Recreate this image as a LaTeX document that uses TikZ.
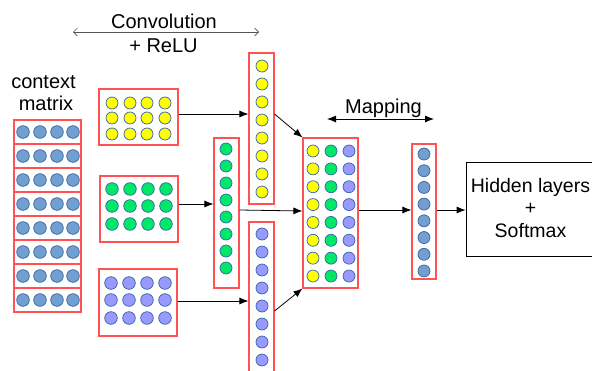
\documentclass[tikz,border=0pt]{standalone}
\usepackage{fontspec}
\setmainfont{Liberation Sans}
\usetikzlibrary{arrows.meta}

\definecolor{boxred}{HTML}{FF5252}
\definecolor{dotedge}{HTML}{3465A4}
\definecolor{dotblue}{HTML}{729FCF}
\definecolor{dotyellow}{HTML}{FFFF00}
\definecolor{dotgreen}{HTML}{00E868}
\definecolor{dotpurple}{HTML}{9999FF}
\definecolor{guide}{HTML}{555555}

\begin{document}
\begin{tikzpicture}[x=1pt,y=-1pt,
  redbox/.style={draw=boxred, line width=1.1pt, fill=white, rectangle, inner sep=0pt},
  plainbox/.style={draw=black, line width=0.8pt, fill=white, rectangle, inner sep=0pt},
  dot/.style={draw=dotedge, line width=0.7pt},
  arr/.style={-{Latex[length=9pt,width=7pt]}, line width=0.8pt, draw=black},
  guidearr/.style={{Straight Barb[length=4pt,width=8pt]}-{Straight Barb[length=4pt,width=8pt]}, line width=0.7pt, draw=guide},
  maparr/.style={{Latex[length=9pt,width=7pt]}-{Latex[length=9pt,width=7pt]}, line width=0.8pt, draw=black},
  lbl/.style={font=\fontsize{20}{22.5}\selectfont, inner sep=0pt}
]
\useasboundingbox (0,0) rectangle (592,370);

% ---------- context matrix: eight rows of four units ----------
\foreach \k in {1,...,8}{
  \node[redbox, minimum width=67pt, minimum height=24pt] (ctx\k) at (47.5,{132+24*(\k-1)}) {};
  \foreach \x in {23,40,57,73}
    \filldraw[dot, fill=dotblue] (\x,{132+24*(\k-1)}) circle[radius=6.3pt];
}
\node[lbl, anchor=base] (ctxtxt) at (43.5,88) {context};
\node[lbl, anchor=base] (mattxt) at (46,110) {matrix};

% ---------- convolution feature maps ----------
\node[redbox, minimum width=79pt, minimum height=56pt] (ym) at (138.5,117) {};
\foreach \x in {112,130,147,165}
  \foreach \y in {103,118,134}
    \filldraw[dot, fill=dotyellow] (\x,\y) circle[radius=6pt];

\node[redbox, minimum width=78pt, minimum height=66pt] (gm) at (139,209) {};
\foreach \x in {112,130,148,166}
  \foreach \y in {189,206,224}
    \filldraw[dot, fill=dotgreen] (\x,\y) circle[radius=6.3pt];

\node[redbox, minimum width=78pt, minimum height=67pt] (pm) at (138,302.5) {};
\foreach \x in {111,129,147,165}
  \foreach \y in {283,300,318}
    \filldraw[dot, fill=dotpurple] (\x,\y) circle[radius=6.3pt];

% ---------- pooled vectors ----------
\node[redbox, minimum width=25pt, minimum height=151pt] (yv) at (261.5,128.5) {};
\foreach \k in {0,...,7}
  \filldraw[dot, fill=dotyellow] (262,{66+18*\k}) circle[radius=6pt];

\node[redbox, minimum width=25pt, minimum height=150pt] (gv) at (226.5,213) {};
\foreach \k in {0,...,7}
  \filldraw[dot, fill=dotgreen] (226,{149+17*\k}) circle[radius=6pt];

\node[redbox, minimum width=25pt, minimum height=160pt] (pv) at (261.5,302) {};
\foreach \k in {0,...,7}
  \filldraw[dot, fill=dotpurple] (262,{234+18*\k}) circle[radius=6pt];

% ---------- concatenation ----------
\node[redbox, minimum width=55pt, minimum height=150pt] (cc) at (330.5,213) {};
\foreach \k in {0,...,7}{
  \filldraw[dot, fill=dotyellow] (313,{151+17.86*\k}) circle[radius=6pt];
  \filldraw[dot, fill=dotgreen]  (331,{151+17.86*\k}) circle[radius=6pt];
  \filldraw[dot, fill=dotpurple] (349,{151+17.86*\k}) circle[radius=6pt];
}

% ---------- mapped vector ----------
\node[redbox, minimum width=24pt, minimum height=135pt] (mv) at (424,211.5) {};
\foreach \k in {0,...,7}
  \filldraw[dot, fill=dotblue] (424,{154+16.71*\k}) circle[radius=6pt];

% ---------- classifier (box runs past the right edge) ----------
\node[plainbox, minimum width=134pt, minimum height=94pt] (hid) at (533,209) {};
\node[lbl, font=\fontsize{19.5}{22.5}\selectfont, align=center] (hidtxt) at (530.5,208)
  {Hidden layers\\+\\Softmax};

% ---------- connectors ----------
\draw[arr] ([yshift=3pt]ym.east) -- ([yshift=3pt]ym.east -| yv.west);
\draw[arr] ([yshift=5pt]gm.east) -- ([yshift=5pt]gm.east -| gv.west);
\draw[arr] ([yshift=1.5pt]pm.east) -- ([yshift=1.5pt]pm.east -| pv.west);
\draw[arr] ([yshift=14.5pt]yv.east) -- (cc.north west);
\draw[arr] ([yshift=3pt]gv.east) -- ([yshift=2pt]cc.west);
\draw[arr] ([yshift=-9pt]pv.east) -- (cc.south west);
\draw[arr] ([yshift=3pt]cc.east) -- ([yshift=3pt]cc.east -| mv.west);
\draw[arr] ([yshift=1.5pt]mv.east) -- ([yshift=1.5pt]mv.east -| hid.west);

% ---------- stage annotations ----------
\coordinate (convL) at (73,32);
\coordinate (convR) at (259,32);
\draw[guidearr] (convL) -- (convR);
\node[lbl, anchor=base] (convtxt) at (164,28) {Convolution};
\node[lbl, anchor=base] (relutxt) at (163.5,52) {+ ReLU};

\coordinate (mapL) at (327,119);
\coordinate (mapR) at (434,119);
\draw[maparr] (mapL) -- (mapR);
\node[lbl, anchor=base] (maptxt) at (383.5,113) {Mapping};
\end{tikzpicture}
\end{document}
